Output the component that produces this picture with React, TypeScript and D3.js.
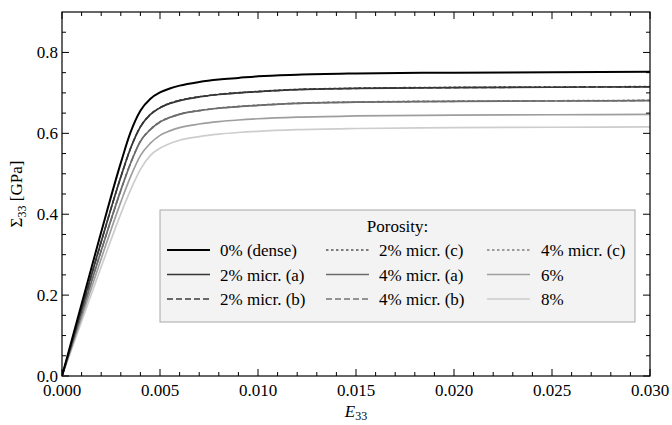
import React from "react";
import * as d3 from "d3";

const strain = [0, 0.001, 0.002, 0.003, 0.0035, 0.004, 0.0045, 0.005, 0.0055, 0.006, 0.007, 0.008, 0.009, 0.01, 0.012, 0.015, 0.02, 0.025, 0.03];

const dense = [0, 0.178, 0.356, 0.527, 0.603, 0.656, 0.685, 0.701, 0.711, 0.718, 0.727, 0.733, 0.737, 0.741, 0.745, 0.748, 0.75, 0.751, 0.752];
const micr2a = [0, 0.166, 0.332, 0.492, 0.563, 0.616, 0.646, 0.663, 0.674, 0.681, 0.69, 0.696, 0.7, 0.703, 0.708, 0.711, 0.713, 0.714, 0.715];
const micr2b = [0, 0.166, 0.332, 0.492, 0.563, 0.616, 0.646, 0.663, 0.674, 0.681, 0.69, 0.696, 0.7, 0.703, 0.708, 0.711, 0.713, 0.714, 0.715];
const micr2c = [0, 0.166, 0.332, 0.493, 0.564, 0.617, 0.647, 0.664, 0.675, 0.682, 0.691, 0.697, 0.701, 0.704, 0.709, 0.712, 0.714, 0.715, 0.716];
const micr4a = [0, 0.155, 0.31, 0.459, 0.526, 0.58, 0.609, 0.628, 0.639, 0.647, 0.656, 0.662, 0.666, 0.669, 0.674, 0.677, 0.679, 0.68, 0.681];
const micr4b = [0, 0.155, 0.31, 0.459, 0.526, 0.58, 0.609, 0.628, 0.639, 0.647, 0.656, 0.662, 0.666, 0.669, 0.674, 0.677, 0.679, 0.68, 0.681];
const micr4c = [0, 0.155, 0.31, 0.46, 0.527, 0.581, 0.61, 0.629, 0.64, 0.648, 0.657, 0.663, 0.667, 0.67, 0.675, 0.678, 0.68, 0.681, 0.682];
const por6 = [0, 0.145, 0.29, 0.43, 0.493, 0.545, 0.575, 0.595, 0.606, 0.614, 0.623, 0.629, 0.633, 0.636, 0.64, 0.643, 0.645, 0.646, 0.647];
const por8 = [0, 0.135, 0.27, 0.401, 0.46, 0.511, 0.545, 0.563, 0.575, 0.583, 0.592, 0.598, 0.602, 0.605, 0.609, 0.612, 0.614, 0.615, 0.616];

const labels = ["0% (dense)", "2% micr. (a)", "2% micr. (b)", "2% micr. (c)", "4% micr. (a)", "4% micr. (b)", "4% micr. (c)", "6%", "8%"];
const seriesValues = [dense, micr2a, micr2b, micr2c, micr4a, micr4b, micr4c, por6, por8];
const colors = ["#000000", "#363636", "#3c3c3c", "#555555", "#6c6c6c", "#747474", "#808080", "#9e9e9e", "#cdcdcd"];
const dashes = ["", "", "6,3", "2.5,2.5", "", "6,3", "2.5,2.5", "", ""];
const widths = [2, 1.7, 1.5, 1.3, 1.7, 1.5, 1.3, 1.7, 1.7];

const xTicks = [0, 0.005, 0.01, 0.015, 0.02, 0.025, 0.03];
const yTicks = [0, 0.2, 0.4, 0.6, 0.8];

const W = 672, H = 425;
const left = 62, right = 650, top = 12, bottom = 376;
const FONT = '"Liberation Serif"';

export default function App() {
  const x = d3.scaleLinear().domain([0, 0.03]).range([left, right]);
  const y = d3.scaleLinear().domain([0, 0.9]).range([bottom, top]);
  const line = d3.line<[number, number]>().x(d => x(d[0])).y(d => y(d[1])).curve(d3.curveMonotoneX);

  const xMinor = d3.range(0, 0.0305, 0.001).filter(v => !xTicks.some(t => Math.abs(t - v) < 1e-9));
  const yMinor = d3.range(0, 0.9, 0.05).filter(v => !yTicks.some(t => Math.abs(t - v) < 1e-9));
  const MJ = 7, MN = 4;

  const lgX = 160, lgY = 210, lgW = 475, lgH = 112;
  const colLineX = [167, 326, 487];
  const colTextX = [220, 379, 541];
  const rowY = [250, 274.5, 299];
  const ts = { fontFamily: FONT, fontSize: 17 } as React.CSSProperties;

  return (
    <svg width={W} height={H} style={{ position: "absolute", left: 0, top: 0, background: "#fff" }}>
      <defs>
        <clipPath id="plot">
          <rect x={left} y={top} width={right - left} height={bottom - top} />
        </clipPath>
      </defs>
      <g clipPath="url(#plot)">
        {[8, 7, 6, 5, 4, 3, 2, 1, 0].map(i => (
          <path key={i} d={line(strain.map((s, k) => [s, seriesValues[i][k]] as [number, number])) || ""}
            fill="none" stroke={colors[i]} strokeWidth={widths[i]} strokeDasharray={dashes[i] || undefined} />
        ))}
      </g>
      <rect x={left} y={top} width={right - left} height={bottom - top} fill="none" stroke="#000" strokeWidth={1.2} />
      {xTicks.map(t => (
        <g key={"xt" + t}>
          <line x1={x(t)} x2={x(t)} y1={bottom} y2={bottom - MJ} stroke="#000" />
          <line x1={x(t)} x2={x(t)} y1={top} y2={top + MJ} stroke="#000" />
          <text x={x(t)} y={396} textAnchor="middle" style={ts}>{t.toFixed(3)}</text>
        </g>
      ))}
      {xMinor.map(t => (
        <g key={"xm" + t}>
          <line x1={x(t)} x2={x(t)} y1={bottom} y2={bottom - MN} stroke="#000" />
          <line x1={x(t)} x2={x(t)} y1={top} y2={top + MN} stroke="#000" />
        </g>
      ))}
      {yTicks.map(t => (
        <g key={"yt" + t}>
          <line x1={left} x2={left + MJ} y1={y(t)} y2={y(t)} stroke="#000" />
          <line x1={right} x2={right - MJ} y1={y(t)} y2={y(t)} stroke="#000" />
          <text x={left - 4} y={y(t) + 6} textAnchor="end" style={ts}>{t.toFixed(1)}</text>
        </g>
      ))}
      {yMinor.map(t => (
        <g key={"ym" + t}>
          <line x1={left} x2={left + MN} y1={y(t)} y2={y(t)} stroke="#000" />
          <line x1={right} x2={right - MN} y1={y(t)} y2={y(t)} stroke="#000" />
        </g>
      ))}
      <text x={(left + right) / 2} y={417} textAnchor="middle" style={ts}>
        <tspan fontStyle="italic">E</tspan>
        <tspan style={{ fontSize: 12 }} dy={3}>33</tspan>
      </text>
      <text transform={`translate(22, ${(top + bottom) / 2}) rotate(-90)`} textAnchor="middle" style={ts}>
        <tspan>Σ</tspan>
        <tspan style={{ fontSize: 12 }} dy={4}>33</tspan>
        <tspan dy={-4}> [GPa]</tspan>
      </text>
      <rect x={lgX} y={lgY} width={lgW} height={lgH} fill="#f3f3f3" stroke="#a8a8a8" strokeWidth={1} />
      <text x={lgX + lgW / 2} y={232} textAnchor="middle" style={ts}>Porosity:</text>
      {[
        [0, 3, 6],
        [1, 4, 7],
        [2, 5, 8],
      ].map((rowItems, r) =>
        rowItems.map((si, c) => (
          <g key={"lg" + si}>
            <line x1={colLineX[c]} x2={colLineX[c] + 43} y1={rowY[r]} y2={rowY[r]} stroke={colors[si]}
              strokeWidth={widths[si]} strokeDasharray={dashes[si] || undefined} />
            <text x={colTextX[c]} y={rowY[r] + 6} style={ts}>{labels[si]}</text>
          </g>
        ))
      )}
    </svg>
  );
}
